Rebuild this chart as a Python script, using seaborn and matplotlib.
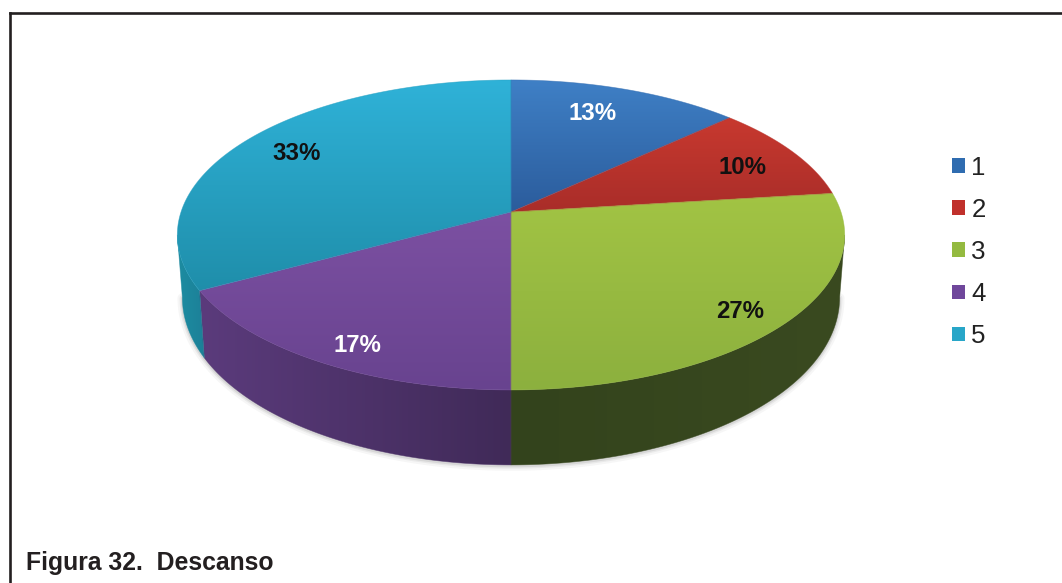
import numpy as np
import matplotlib
matplotlib.use("Agg")
import matplotlib.pyplot as plt
import seaborn as sns
from matplotlib.colors import LinearSegmentedColormap, to_rgb
from matplotlib.patches import Patch, Polygon

categories = ["1", "2", "3", "4", "5"]
shares = [13, 10, 27, 17, 33]
percent_labels = ["13%", "10%", "27%", "17%", "33%"]
caption = "Figura 32.  Descanso"

# Lit top surface (upper, lower) and shaded rim (left, right) for each slice
top_shades = [("#3f80c6", "#2b5c9c"), ("#c8392f", "#a92d29"), ("#a2c444", "#8cb03e"),
              ("#7c50a2", "#68438f"), ("#2fb2d8", "#1f8eaa")]
rim_shades = [("#2c5c94", "#234a78"), ("#96302b", "#7a2724"), ("#33431c", "#3a4a20"),
              ("#5b3b7c", "#402a58"), ("#1d8da2", "#1c8098")]
label_colors = ["white", "#111111", "#111111", "white", "#111111"]

sns.set_theme(style="white")
plt.rcParams["font.family"] = ["Liberation Sans", "DejaVu Sans"]
legend_colors = sns.color_palette(["#2f6cb0", "#c0302b", "#94ba40", "#6f479b", "#28a6c8"])

fig = plt.figure(figsize=(10.62, 5.83), dpi=100, facecolor="white")
ax = fig.add_axes([0, 0, 1, 1])
ax.set_axis_off()

# Perspective layout of the disc, in figure pixels
CX, CY = 511.0, 212.0
RX, RY, TILT = 330.0, 151.6, 0.148
NEAR_SHRINK = 0.985


def project(theta):
    """Map clockwise angles from twelve o'clock onto the tilted top face."""
    u, v = np.sin(theta), np.cos(theta)
    w = 1 + TILT * v
    return CX + RX * u / w, CY - RY * v / w


def project_low(theta):
    """Same angles on the lower edge of the rim."""
    u, v = np.sin(theta), np.cos(theta)
    w = 1 + TILT * v
    return CX + NEAR_SHRINK * RX * u / w, CY - RY * v / w + (60 - 15 * v)


def shaded(poly_xy, colors, horizontal, z):
    """Fill a polygon with a two-colour gradient clipped to its outline."""
    cmap = LinearSegmentedColormap.from_list("shade", colors)
    grad = np.linspace(0, 1, 256)
    grad = grad[None, :] if horizontal else grad[:, None]
    x0, x1 = poly_xy[:, 0].min(), poly_xy[:, 0].max()
    y0, y1 = poly_xy[:, 1].min(), poly_xy[:, 1].max()
    im = ax.imshow(grad, cmap=cmap, extent=(x0, x1, y1, y0), aspect="auto",
                   interpolation="bilinear", zorder=z)
    mid = tuple(np.mean([to_rgb(c) for c in colors], axis=0))
    ax.add_patch(Polygon(poly_xy, closed=True, fc="none", ec=mid, lw=0.5, alpha=0.6,
                         zorder=z + 0.1))
    im.set_clip_path(Polygon(poly_xy, closed=True, transform=ax.transData))


edges = np.deg2rad(np.concatenate([[0], np.cumsum(shares)]) * 3.6)
front_start, front_end = np.deg2rad(98.5), np.deg2rad(261.5)

# Soft shadow along the lower silhouette
theta = np.linspace(front_start, front_end, 200)
sx, sy = project_low(theta)
for width, alpha in [(7, 0.05), (4, 0.08), (2, 0.12)]:
    ax.plot(sx, sy + 1, color="#555555", lw=width, alpha=alpha, zorder=1,
            solid_capstyle="round")

for i in range(len(shares)):
    # Rim of the slice, only where it faces the viewer
    lo, hi = max(edges[i], front_start), min(edges[i + 1], front_end)
    if hi > lo:
        t = np.linspace(lo, hi, 120)
        upper = np.column_stack(project(t))
        lower = np.column_stack(project_low(t))
        shaded(np.vstack([upper, lower[::-1]]), rim_shades[i], True, 2)

for i in range(len(shares)):
    # Top face of the slice
    t = np.linspace(edges[i], edges[i + 1], 200)
    arc = np.column_stack(project(t))
    shaded(np.vstack([[CX, CY], arc]), top_shades[i], False, 3)

# Percentage labels
label_xy = [(593, 113), (743, 167), (740, 312), (357, 345), (297, 153)]
for text, (lx, ly), color in zip(percent_labels, label_xy, label_colors):
    ax.text(lx, ly, text, color=color, fontsize=17.3, fontweight="bold",
            ha="center", va="center", zorder=5)

# Frame running off the right and bottom edges
ax.plot([10, 10], [583, 13], color="#231f20", lw=1.9, zorder=6, solid_capstyle="projecting")
ax.plot([10, 1062], [13, 13], color="#231f20", lw=1.9, zorder=6, solid_capstyle="projecting")

ax.text(26, 570, caption, fontsize=17.8, fontweight="bold", color="#231f20",
        ha="left", va="baseline", zorder=6)

ax.set_xlim(0, 1062)
ax.set_ylim(583, 0)

handles = [Patch(facecolor=c, edgecolor="none") for c in legend_colors]
ax.legend(handles, categories, loc="center left", bbox_to_anchor=(952 / 1062, 1 - 252 / 583),
          frameon=False, fontsize=18.6, handlelength=0.5, handleheight=0.5,
          handletextpad=0.25, labelspacing=0.70, labelcolor="#222222", borderpad=0,
          borderaxespad=0)

fig.savefig("out.png", dpi=100, facecolor="white")
